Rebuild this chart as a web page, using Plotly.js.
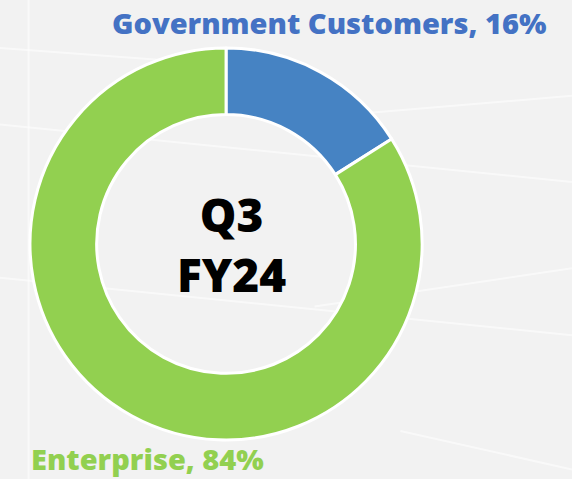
<!DOCTYPE html>
<html>
<head>
<meta charset="utf-8">
<script src="https://cdn.plot.ly/plotly-3.0.1.min.js"></script>
<style>html,body{margin:0;padding:0;background:#f2f2f2;}#chart{width:572px;height:479px;}</style>
</head>
<body>
<div id="chart"></div>
<script>
const categories = ["Government Customers", "Enterprise"];
const shares = [16, 84];
const sliceColors = ["#4683c3", "#92d050"];
const labelColors = ["#4472c4", "#92d050"];
const centerText = "Q3<br>FY24";

const trace = {
  type: "pie",
  labels: categories,
  values: shares,
  sort: false,
  direction: "clockwise",
  rotation: 0,
  hole: 0.66,
  textinfo: "none",
  hoverinfo: "label+percent",
  marker: { colors: sliceColors, line: { color: "#ffffff", width: 3 } },
  domain: { x: [0.0524, 0.738], y: [0.0814, 0.900] },
  showlegend: false
};

const bgLines = [
  [0, 0.74, 1, 0.62], [0, 0.42, 1, 0.30], [0.55, 0.36, 1, 0.44],
  [0, 0.90, 0.45, 0.86], [0.6, 0.76, 1, 0.80], [0.05, 1.0, 0.05, 0.0],
  [0.7, 0.10, 1, 0.02]
];
const shapes = bgLines.map(l => ({
  type: "line", xref: "paper", yref: "paper", x0: l[0], y0: l[1], x1: l[2], y1: l[3],
  line: { color: "rgba(255,255,255,0.55)", width: 2 }, layer: "below"
}));

const layout = {
  width: 572, height: 479,
  margin: { l: 0, r: 0, t: 0, b: 0 },
  paper_bgcolor: "#f2f2f2",
  plot_bgcolor: "#f2f2f2",
  shapes: shapes,
  annotations: [
    { text: centerText, x: 0.405, y: 0.49, xref: "paper", yref: "paper", showarrow: false,
      font: { family: "Open Sans, Noto Sans, sans-serif", size: 46, color: "#000000", weight: 800 } },
    { text: categories[0] + ", " + shares[0] + "%", x: 0.956, y: 0.954, xref: "paper", yref: "paper",
      xanchor: "right", yanchor: "middle", showarrow: false, borderpad: 0,
      font: { family: "Open Sans, Noto Sans, sans-serif", size: 29, color: labelColors[0], weight: 800 } },
    { text: categories[1] + ", " + shares[1] + "%", x: 0.052, y: 0.0, xref: "paper", yref: "paper",
      xanchor: "left", yanchor: "bottom", showarrow: false, borderpad: 0,
      font: { family: "Open Sans, Noto Sans, sans-serif", size: 29, color: labelColors[1], weight: 800 } }
  ]
};

Plotly.newPlot("chart", [trace], layout, { displayModeBar: false, staticPlot: true });
</script>
</body>
</html>
